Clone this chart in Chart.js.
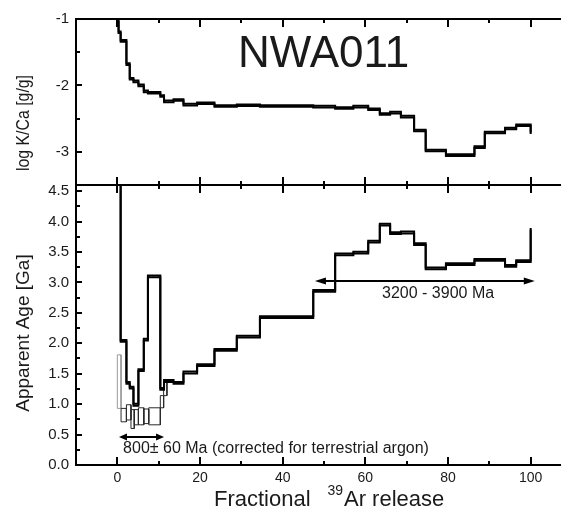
<!DOCTYPE html>
<html><head><meta charset="utf-8">
<script src="https://cdn.jsdelivr.net/npm/chart.js@4/dist/chart.umd.min.js"></script>
<style>
html,body{margin:0;padding:0;background:#fff;overflow:hidden;}
#wrap{position:relative;width:561px;height:508px;overflow:hidden;background:#fff;}
canvas{position:absolute;left:0;top:0;}
</style></head><body>
<div id="wrap"><canvas id="bot" width="580" height="508" style="width:580px;height:508px"></canvas><canvas id="top" width="580" height="508" style="width:580px;height:508px"></canvas></div>
<script>
// ---- data ----
const stepEdges = [0, 0.3, 0.8, 2.2, 3.0, 3.9, 5.1, 6.4, 7.4, 10.4, 11.3, 13.6, 16.0, 19.3, 23.5, 28.9, 34.5, 40.5, 47.4, 52.7, 57.1, 60.7, 63.5, 66.0, 68.6, 71.8, 74.6, 79.5, 86.4, 88.9, 93.8, 96.5, 100];
const logKCa = [-1.03, -1.2, -1.33, -1.68, -1.90, -1.94, -2.00, -2.09, -2.11, -2.16, -2.24, -2.22, -2.29, -2.27, -2.31, -2.30, -2.31, -2.31, -2.32, -2.34, -2.32, -2.36, -2.43, -2.41, -2.47, -2.68, -2.98, -3.05, -2.93, -2.71, -2.65, -2.60];
const logKCaEnd = -2.72;
const ageGa = [6.0, 6.0, 2.04, 1.35, 1.27, 0.99, 1.56, 2.06, 3.10, 1.25, 1.38, 1.35, 1.52, 1.64, 1.89, 2.11, 2.43, 2.43, 2.86, 3.46, 3.49, 3.67, 3.95, 3.81, 3.82, 3.63, 3.23, 3.30, 3.37, 3.37, 3.27, 3.35];
const ageEnd = 3.88;
const KCA_ERR = 0.012;
const AGE_ERR = 0.015;
// corrected (terrestrial argon) spectrum error boxes
const corrLeft  = [0, 0.9, 2.2, 3.3, 4.1, 5.1, 6.4, 7.6, 10.4, 11.2];
const corrRight = [0.9, 2.2, 3.3, 4.1, 5.1, 6.4, 7.6, 10.4, 11.2, 12.0];
const corrLow   = [0.93, 0.71, 0.74, 0.60, 0.66, 0.66, 0.68, 0.66, 0.94, 1.14];
const corrHigh  = [1.81, 0.93, 0.99, 0.91, 0.91, 0.94, 0.92, 0.94, 1.14, 1.36];
// tick labels
const xTickValues = [0, 20, 40, 60, 80, 100];
const kcaTickValues = [-3, -2, -1];
const ageTickValues = [0, 0.5, 1, 1.5, 2, 2.5, 3, 3.5, 4, 4.5];
// texts
const sampleName = 'NWA011';
const kcaTitle = 'log K/Ca [g/g]';
const ageTitle = 'Apparent Age [Ga]';
const label800 = '800\u00b1 60 Ma (corrected for terrestrial argon)';
const label3200 = '3200 - 3900 Ma';
const arrow800 = {from: 0.4, to: 11.3, at: 0.46};
const arrow3200 = {from: 47.8, to: 101, at: 3.02};

const FONT = "'Liberation Sans', Arial, sans-serif";
const TXT = '#1a1a1a';
Chart.defaults.font.family = FONT;
Chart.defaults.color = TXT;

function stepPoints(edges, vals, off, endVal) {
  const pts = vals.map((v, i) => ({x: edges[i], y: v + off}));
  const last = edges[edges.length - 1];
  pts.push({x: last, y: vals[vals.length - 1] + off});
  pts.push({x: last, y: endVal + off});
  return pts;
}
function boxPoints(l, r, lo, hi) {
  const pts = [];
  for (let i = 0; i < l.length; i++) {
    pts.push({x: l[i], y: lo[i]}, {x: l[i], y: hi[i]}, {x: r[i], y: hi[i]}, {x: r[i], y: lo[i]}, {x: l[i], y: lo[i]}, {x: r[i], y: null});
  }
  return pts;
}
function lineDs(data, color, width, stepped) {
  return {data, borderColor: color, borderWidth: width, pointRadius: 0, fill: false, stepped: stepped ? 'before' : false, tension: 0, spanGaps: false};
}

const framePlugin = {
  id: 'frame',
  afterDatasetsDraw(chart, args, o) {
    const {ctx, chartArea: a} = chart; const xs = chart.scales.x, ys = chart.scales.y;
    ctx.save();
    ctx.strokeStyle = '#000'; ctx.lineWidth = 2;
    ctx.beginPath();
    ctx.moveTo(a.left, a.bottom + 1); ctx.lineTo(a.left, a.top - 1);
    ctx.moveTo(a.left - 1, a.top); ctx.lineTo(a.right + 6, a.top);
    ctx.moveTo(a.left - 1, a.bottom); ctx.lineTo(a.right + 6, a.bottom);
    ctx.stroke();
    ctx.beginPath();
    const n0 = Math.ceil(xs.min / o.xMinor - 1e-9), n1 = Math.floor(xs.max / o.xMinor + 1e-9);
    for (let k = n0; k <= n1; k++) {
      const px = Math.round(xs.getPixelForValue(k * o.xMinor));
      if (px <= a.left + 2) continue;
      const len = (k % 2 === 0) ? 8 : 4;
      if (o.topTicks) { ctx.moveTo(px, a.top); ctx.lineTo(px, a.top + len); }
      ctx.moveTo(px, a.bottom); ctx.lineTo(px, a.bottom - len);
    }
    const m0 = Math.ceil(ys.min / o.yMinor - 1e-9), m1 = Math.floor(ys.max / o.yMinor + 1e-9);
    for (let k = m0; k <= m1; k++) {
      const py = Math.round(ys.getPixelForValue(k * o.yMinor));
      const len = (k % 2 === 0) ? 6 : 4;
      ctx.moveTo(a.left, py); ctx.lineTo(a.left + len, py);
    }
    ctx.stroke();
    ctx.restore();
  }
};

function vText(ctx, text, baseX, cy, font, targetW) {
  ctx.save(); ctx.translate(baseX, cy); ctx.rotate(-Math.PI / 2);
  ctx.font = font; ctx.fillStyle = TXT; ctx.textAlign = 'center'; ctx.textBaseline = 'alphabetic';
  if (targetW) { const w = ctx.measureText(text).width; ctx.scale(targetW / w, 1); }
  ctx.fillText(text, 0, 0);
  ctx.restore();
}
function arrow(ctx, x1, x2, y, head, half) {
  ctx.save(); ctx.strokeStyle = '#000'; ctx.fillStyle = '#000'; ctx.lineWidth = 2;
  ctx.beginPath(); ctx.moveTo(x1 + head - 1, y); ctx.lineTo(x2 - head + 1, y); ctx.stroke();
  ctx.beginPath(); ctx.moveTo(x1, y); ctx.lineTo(x1 + head, y - half); ctx.lineTo(x1 + head, y + half); ctx.closePath(); ctx.fill();
  ctx.beginPath(); ctx.moveTo(x2, y); ctx.lineTo(x2 - head, y - half); ctx.lineTo(x2 - head, y + half); ctx.closePath(); ctx.fill();
  ctx.restore();
}

const topText = {
  id: 'topText',
  afterDraw(chart) {
    const ctx = chart.ctx;
    ctx.save(); ctx.fillStyle = TXT; ctx.font = '44px ' + FONT; ctx.textAlign = 'left'; ctx.textBaseline = 'alphabetic';
    ctx.fillText(sampleName, 238, 67);
    ctx.restore();
    vText(ctx, kcaTitle, 29, 123, '19px ' + FONT, 96);
  }
};
const botText = {
  id: 'botText',
  afterDraw(chart) {
    const ctx = chart.ctx, xs = chart.scales.x, ys = chart.scales.y;
    arrow(ctx, xs.getPixelForValue(arrow800.from), xs.getPixelForValue(arrow800.to), Math.round(ys.getPixelForValue(arrow800.at)), 8, 3.5);
    arrow(ctx, xs.getPixelForValue(arrow3200.from), xs.getPixelForValue(arrow3200.to), Math.round(ys.getPixelForValue(arrow3200.at)), 11, 3.5);
    ctx.save(); ctx.fillStyle = TXT; ctx.textBaseline = 'alphabetic';
    ctx.font = '16px ' + FONT; ctx.textAlign = 'left';
    ctx.fillText(label800, xs.getPixelForValue(1.4), ys.getPixelForValue(0.2));
    ctx.textAlign = 'center';
    ctx.fillText(label3200, xs.getPixelForValue(77.6), ys.getPixelForValue(2.75));
    ctx.textAlign = 'left';
    ctx.font = '22px ' + FONT; ctx.fillText('Fractional', 214, 506);
    ctx.font = '14px ' + FONT; ctx.fillText('39', 327.5, 495);
    ctx.font = '22px ' + FONT; ctx.fillText('Ar release', 344, 506);
    ctx.restore();
    vText(ctx, ageTitle, 29, 333, '19px ' + FONT);
  }
};

const commonX = {type: 'linear', min: -10, max: 110, grid: {display: false, drawTicks: false}, border: {display: false}};

new Chart(document.getElementById('top'), {
  type: 'line',
  data: {datasets: [
    lineDs(stepPoints(stepEdges, logKCa, KCA_ERR, logKCaEnd), '#000', 2, true),
    lineDs(stepPoints(stepEdges, logKCa, -KCA_ERR, logKCaEnd), '#000', 2, true)
  ]},
  options: {
    responsive: false, animation: false, events: [],
    layout: {padding: {left: 0, right: 8, top: 19, bottom: 323}},
    plugins: {legend: {display: false}, tooltip: {enabled: false}, frame: {xMinor: 10, yMinor: 0.5, topTicks: true}},
    scales: {
      x: Object.assign({}, commonX, {display: false}),
      y: {type: 'linear', min: -3.5, max: -1, grid: {display: false, drawTicks: false}, border: {display: false},
        afterBuildTicks: s => { s.ticks = kcaTickValues.map(v => ({value: v})); },
        afterFit: s => { s.width = 76; },
        ticks: {padding: 7, font: {size: 15}, color: TXT, callback: v => String(v)}}
    }
  },
  plugins: [framePlugin, topText]
});

new Chart(document.getElementById('bot'), {
  type: 'line',
  data: {datasets: [
    lineDs(stepPoints(stepEdges, ageGa, AGE_ERR, ageEnd), '#000', 2, true),
    lineDs(stepPoints(stepEdges, ageGa, -AGE_ERR, ageEnd), '#000', 2, true),
    lineDs(boxPoints(corrLeft.slice(1), corrRight.slice(1), corrLow.slice(1), corrHigh.slice(1)), '#2a2a2a', 1, false),
    lineDs(boxPoints(corrLeft.slice(0, 1), corrRight.slice(0, 1), corrLow.slice(0, 1), corrHigh.slice(0, 1)), '#9a9a9a', 1, false)
  ]},
  options: {
    responsive: false, animation: false, events: [],
    layout: {padding: {left: 0, right: 8, top: 185, bottom: 0}},
    plugins: {legend: {display: false}, tooltip: {enabled: false}, frame: {xMinor: 10, yMinor: 0.25, topTicks: true}},
    scales: {
      x: Object.assign({}, commonX, {
        afterBuildTicks: s => { s.ticks = xTickValues.map(v => ({value: v})); },
        afterFit: s => { s.height = 43; },
        ticks: {padding: 5, font: {size: 14}, color: TXT, autoSkip: false, maxRotation: 0, callback: v => String(v)}}),
      y: {type: 'linear', min: 0, max: 4.6, grid: {display: false, drawTicks: false}, border: {display: false},
        afterBuildTicks: s => { s.ticks = ageTickValues.map(v => ({value: v})); },
        afterFit: s => { s.width = 76; },
        ticks: {padding: 7, font: {size: 15}, color: TXT, callback: v => Number(v).toFixed(1)}}
    }
  },
  plugins: [framePlugin, botText]
});
</script>
</body></html>
